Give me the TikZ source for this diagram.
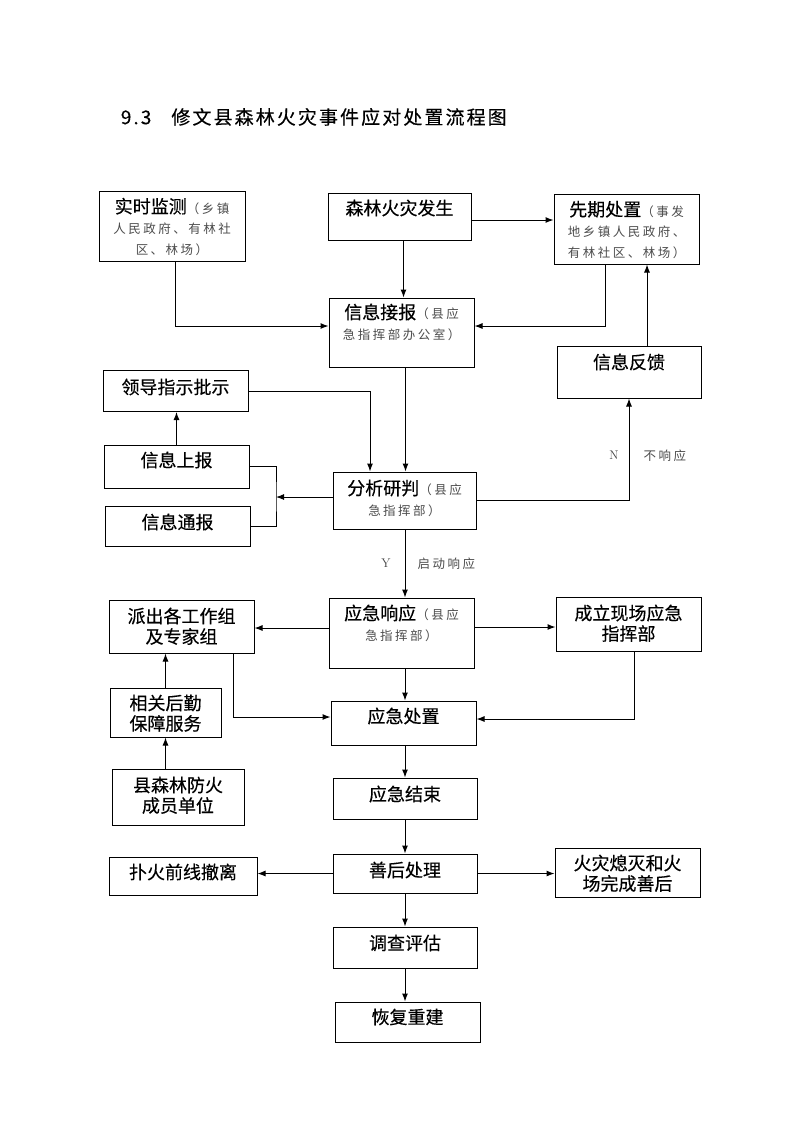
\documentclass[tikz,border=0pt]{standalone}
\usepackage{fontspec}
\usepackage{xcolor}
\usepackage{tikz}
\usetikzlibrary{arrows.meta}

\newfontfamily\heiti[FakeBold=0.35]{Noto Sans CJK SC}
\newfontfamily\heitispaced[LetterSpace=20]{Noto Sans CJK SC}
\newfontfamily\titlefont[LetterSpace=11, FakeBold=0.3]{Noto Sans CJK SC}
\newcommand{\boxfont}{\heiti\fontsize{18}{20.5}\selectfont}
\newcommand{\notefont}{\heitispaced\fontsize{12.5}{15}\selectfont\color{black!70}}
\newcommand{\boxnote}[1]{{\notefont #1}}

\begin{document}
\begin{tikzpicture}[x=1pt, y=-1pt, line width=1pt, >={Latex[length=8pt,width=6pt]},
  box/.style 2 args={draw, minimum width=145pt, minimum height=#1, text depth=#2, inner sep=1pt, align=center, font=\boxfont},
  tag/.style={inner sep=0pt, font=\notefont},
  yn/.style={inner sep=0pt, font=\fontsize{12.5}{14}\selectfont\color{black!75}}]
\fill[white] (0,0) rectangle (793,1122);
\useasboundingbox (0,0) rectangle (793,1122);

\node[anchor=west, font=\titlefont\fontsize{19}{22}\selectfont] (title) at (117,117) {9.3\hspace{20pt}修文县森林火灾事件应对处置流程图};

% top row
\node[box={70pt}{-3.5pt}, minimum width=146pt] (shishi) at (172,226) {实时监测\boxnote{（乡镇}\\\boxnote{人民政府、有林社}\\\boxnote{区、林场）}};
\node[box={47pt}{18.5pt}, minimum width=143pt] (fasheng) at (399.5,216.5) {森林火灾发生};
\node[box={70pt}{-1.5pt}] (xianqi) at (626.5,229) {先期处置\boxnote{（事发}\\\boxnote{地乡镇人民政府、}\\\boxnote{有林社区、林场）}};
\node[box={69pt}{22pt}] (jiebao) at (401.5,332.5) {信息接报\boxnote{（县应}\\\boxnote{急指挥部办公室）}};
\node[box={52pt}{21.5pt}, minimum width=144pt] (fankui) at (629,372) {信息反馈};

% analysis
\node[box={41pt}{9.5pt}] (lingdao) at (175.5,391) {领导指示批示};
\node[box={43pt}{14.5pt}] (shangbao) at (176.5,466.5) {信息上报};
\node[box={40pt}{9.5pt}] (tongbao) at (177.5,526) {信息通报};
\node[box={57pt}{6pt}, minimum width=143pt] (yanpan) at (404.5,500.5) {分析研判\boxnote{（县应}\\\boxnote{急指挥部）}};

% response
\node[box={70pt}{21pt}] (xiangying) at (401.5,633) {应急响应\boxnote{（县应}\\\boxnote{急指挥部）}};
\node[box={53pt}{2pt}] (paichu) at (181.5,626.5) {派出各工作组\\及专家组};
\node[box={54pt}{3pt}] (xianchang) at (628.5,624) {成立现场应急\\指挥部};
\node[box={49pt}{0pt}, minimum width=111pt] (houqin) at (165.5,712.5) {相关后勤\\保障服务};
\node[box={44pt}{15.5pt}] (chuzhi) at (403.5,723) {应急处置};
\node[box={56pt}{5pt}, minimum width=132pt] (chengyuan) at (178,797) {县森林防火\\成员单位};
\node[box={41pt}{10.5pt}, minimum width=144pt] (jieshu) at (405,798.5) {应急结束};

% aftermath
\node[box={38pt}{9.5pt}, minimum width=148pt] (chetui) at (183,876) {扑火前线撤离};
\node[box={39pt}{8.5pt}, minimum width=144pt] (shanhou) at (405,873.5) {善后处理};
\node[box={49pt}{0pt}] (ximie) at (627.5,872.5) {火灾熄灭和火\\场完成善后};
\node[box={41pt}{10.5pt}, minimum width=144pt] (diaocha) at (405,947.5) {调查评估};
\node[box={40pt}{11.5pt}] (huifu) at (407.5,1022) {恢复重建};

\coordinate (brk) at (276,497);

\path[->]
([yshift=-3.5pt]fasheng.east) edge ([yshift=9pt]xianqi.west)
([xshift=4pt]fasheng.south) edge ([xshift=2pt]jiebao.north)
([xshift=4pt]jiebao.south) edge ([xshift=1pt]yanpan.north)
(shangbao.north) edge ([xshift=1pt]lingdao.south)
([yshift=3.5pt]yanpan.west) edge (brk)
([xshift=.5pt]yanpan.south) edge node[yn, left=14pt]{Y} node[tag, right=12pt]{启动响应} ([xshift=3.5pt]xiangying.north)
([yshift=5pt]xiangying.west) edge ([yshift=-1.5pt]paichu.east)
([yshift=6pt]xiangying.east) edge ([yshift=-3pt]xianchang.west)
([xshift=3.5pt]xiangying.south) edge ([xshift=1.5pt]chuzhi.north)
(houqin.north) edge ([xshift=-16pt]paichu.south)
([xshift=-12.5pt]chengyuan.north) edge (houqin.south)
([xshift=1.5pt]chuzhi.south) edge (jieshu.north)
(jieshu.south) edge (shanhou.north)
(shanhou.west) edge ([yshift=2.5pt]chetui.east)
(shanhou.east) edge ([yshift=-1pt]ximie.west)
(shanhou.south) edge (diaocha.north)
(diaocha.south) edge ([xshift=-2.5pt]huifu.north)
([xshift=18pt]fankui.north) edge ([xshift=20.5pt]xianqi.south)
;

\draw[->] ([xshift=3pt]shishi.south) |- ([yshift=6.5pt]jiebao.west);
\draw[->] ([xshift=-21.5pt]xianqi.south) |- ([yshift=6.5pt]jiebao.east);
\draw[->] (lingdao.east) -| ([xshift=-34.5pt]yanpan.north);
\draw (shangbao.east) -| (brk) |- (tongbao.east);
\draw[->] (yanpan.east) -| node[yn, pos=.72, left=10pt]{N} node[tag, pos=.72, right=14pt]{不响应} (fankui.south);
\draw[->] ([xshift=51.5pt]paichu.south) |- ([yshift=6pt]chuzhi.west);
\draw[->] ([xshift=6pt]xianchang.south) |- ([yshift=4pt]chuzhi.east);
\end{tikzpicture}
\end{document}
